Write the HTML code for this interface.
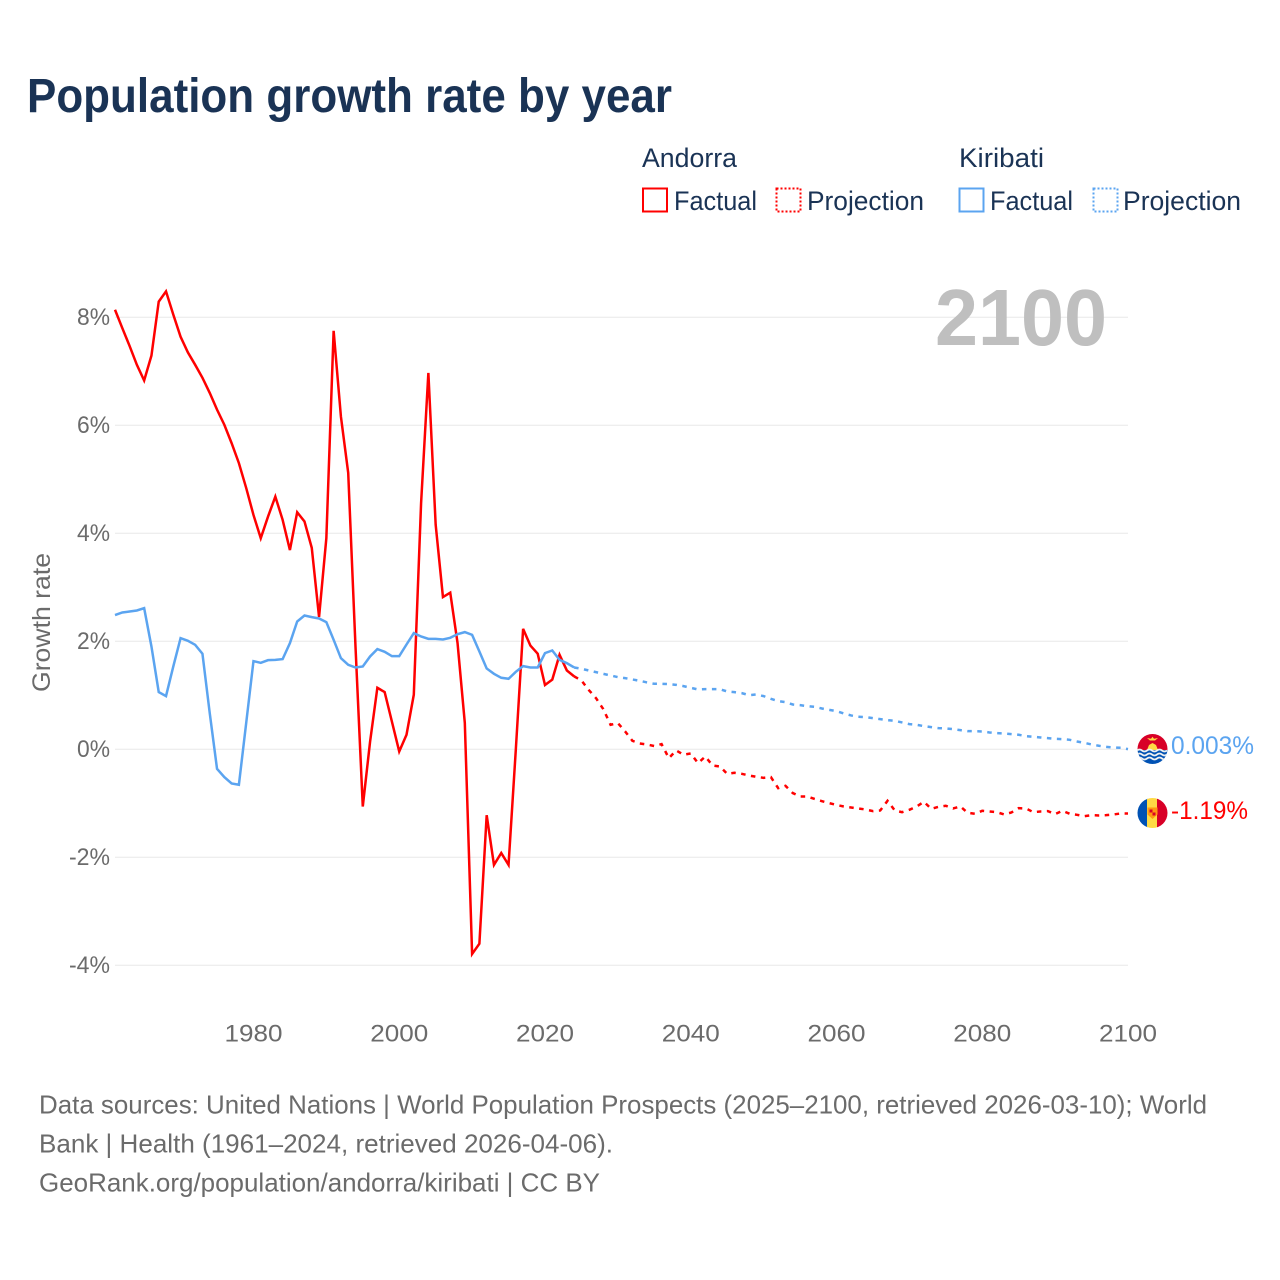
<!DOCTYPE html>
<html lang="en">
<head>
<meta charset="utf-8">
<title>Population growth rate by year</title>
<style>
html,body{margin:0;padding:0;background:#fff}
svg{display:block}
text{font-family:"Liberation Sans",sans-serif}
</style>
</head>
<body>
<svg id="chart" xmlns="http://www.w3.org/2000/svg" width="1280" height="1280" viewBox="0 0 1280 1280">
  <rect x="0" y="0" width="1280" height="1280" fill="#ffffff"/>
  <text x="27" y="112" font-size="48" font-weight="700" fill="#1a3355" textLength="645" lengthAdjust="spacingAndGlyphs">Population growth rate by year</text>

  <g font-size="27" fill="#1a3355">
    <text x="642" y="167" textLength="95" lengthAdjust="spacingAndGlyphs">Andorra</text>
    <text x="959" y="167" textLength="85" lengthAdjust="spacingAndGlyphs">Kiribati</text>
    <rect x="643" y="188.5" width="24" height="23" fill="none" stroke="#ff0000" stroke-width="2"/>
    <text x="674" y="210" textLength="83" lengthAdjust="spacingAndGlyphs">Factual</text>
    <rect x="776.5" y="188.5" width="24" height="23" fill="none" stroke="#ff0000" stroke-width="2" stroke-dasharray="2 2"/>
    <text x="807" y="210" textLength="117" lengthAdjust="spacingAndGlyphs">Projection</text>
    <rect x="959.5" y="188.5" width="24" height="23" fill="none" stroke="#5ba4f0" stroke-width="2"/>
    <text x="990" y="210" textLength="83" lengthAdjust="spacingAndGlyphs">Factual</text>
    <rect x="1093.5" y="188.5" width="24" height="23" fill="none" stroke="#5ba4f0" stroke-width="2" stroke-dasharray="2 2"/>
    <text x="1123" y="210" textLength="118" lengthAdjust="spacingAndGlyphs">Projection</text>
  </g>

  <g id="grid"></g>
  <text x="935" y="345" font-size="80" font-weight="700" fill="#bfbfbf" textLength="172" lengthAdjust="spacingAndGlyphs">2100</text>
  <g id="y-ticks"></g>
  <g id="x-ticks"></g>
  <text transform="translate(50 692) rotate(-90)" x="0" y="0" font-size="25" fill="#6b6b6b" textLength="139" lengthAdjust="spacingAndGlyphs">Growth rate</text>
  <g id="series"></g>

  <defs>
    <clipPath id="clip-kiribati"><circle cx="1152.500" cy="749" r="15"/></clipPath>
    <clipPath id="clip-andorra"><circle cx="1152.500" cy="813" r="15"/></clipPath>
  </defs>
  <g clip-path="url(#clip-kiribati)">
    <rect x="1137" y="733" width="31" height="17" fill="#d80027"/>
    <rect x="1137" y="750" width="31" height="16" fill="#0052b4"/>
    <path d="M1147 750l2-5 3.500-2 3.500 2 2 5z" fill="#ffda44"/>
    <path d="M1147 738l4 .8 1.500-2 1.500 2 4-.8-3 2.500h-5z" fill="#ffda44"/>
    <path d="M1137 750.500q2.500-2 5 0t5 0 5 0 5 0 5 0 5 0" fill="none" stroke="#f0f0f0" stroke-width="1.800"/>
    <path d="M1137 754.500q2.500-2 5 0t5 0 5 0 5 0 5 0 5 0" fill="none" stroke="#f0f0f0" stroke-width="1.800"/>
    <path d="M1137 758.500q2.500-2 5 0t5 0 5 0 5 0 5 0 5 0" fill="none" stroke="#f0f0f0" stroke-width="1.800"/>
  </g>
  <g clip-path="url(#clip-andorra)">
    <rect x="1137" y="797" width="11" height="32" fill="#0052b4"/>
    <rect x="1147" y="797" width="11" height="32" fill="#ffda44"/>
    <rect x="1157" y="797" width="11" height="32" fill="#d80027"/>
    <path d="M1147.500 807.500h10v7l-5 4.500-5-4.500z" fill="#ff9811"/>
    <rect x="1149.500" y="809.500" width="3" height="3" fill="#d80027"/>
    <rect x="1152.500" y="812.500" width="3" height="3" fill="#d80027"/>
  </g>
  <text x="1171" y="754" font-size="25" fill="#5ba4f0" textLength="83" lengthAdjust="spacingAndGlyphs">0.003%</text>
  <text x="1171" y="819" font-size="25" fill="#ff0000" textLength="77" lengthAdjust="spacingAndGlyphs">-1.19%</text>

  <g font-size="26" fill="#6b6b6b">
    <text x="39" y="1113.500" textLength="1168" lengthAdjust="spacingAndGlyphs">Data sources: United Nations | World Population Prospects (2025–2100, retrieved 2026-03-10); World</text>
    <text x="39" y="1152.500" textLength="574" lengthAdjust="spacingAndGlyphs">Bank | Health (1961–2024, retrieved 2026-04-06).</text>
    <text x="39" y="1191.500" textLength="561" lengthAdjust="spacingAndGlyphs">GeoRank.org/population/andorra/kiribati | CC BY</text>
  </g>
</svg>
<script>
const factualStartYear = 1961;
const projectionStartYear = 2024;
const yTickValues = [8, 6, 4, 2, 0, -2, -4];
const xTickValues = [1980, 2000, 2020, 2040, 2060, 2080, 2100];

const andorraFactual = [
  8.14, 7.80, 7.47, 7.12, 6.83, 7.29, 8.29, 8.48, 8.05, 7.64,
  7.35, 7.12, 6.88, 6.60, 6.29, 6.01, 5.67, 5.30, 4.84, 4.34,
  3.91, 4.31, 4.68, 4.25, 3.69, 4.39, 4.22, 3.73, 2.45, 3.91,
  7.75, 6.16, 5.12, 1.90, -1.06, 0.14, 1.14, 1.06, 0.51, -0.04,
  0.27, 1.01, 4.56, 6.97, 4.16, 2.82, 2.90, 1.97, 0.49, -3.79,
  -3.60, -1.22, -2.14, -1.92, -2.14, 0.00, 2.23, 1.92, 1.77, 1.19,
  1.29, 1.75, 1.46, 1.35
];
const andorraProjection = [
  1.35, 1.275, 1.10, 0.948, 0.744, 0.454, 0.485, 0.33, 0.157, 0.108,
  0.089, 0.06, 0.096, -0.164, -0.02, -0.10, -0.077, -0.256, -0.133, -0.30,
  -0.318, -0.454, -0.435, -0.454, -0.485, -0.51, -0.528, -0.515, -0.72, -0.676,
  -0.81, -0.873, -0.873, -0.92, -0.96, -0.997, -1.03, -1.059, -1.077, -1.096,
  -1.114, -1.145, -1.133, -0.954, -1.133, -1.164, -1.12, -1.059, -0.972, -1.102,
  -1.065, -1.046, -1.096, -1.059, -1.176, -1.194, -1.139, -1.151, -1.164, -1.207,
  -1.17, -1.09, -1.096, -1.164, -1.151, -1.145, -1.20, -1.139, -1.194, -1.213,
  -1.238, -1.219, -1.225, -1.219, -1.207, -1.188, -1.19
];
const kiribatiFactual = [
  2.485, 2.534, 2.552, 2.571, 2.614, 1.904, 1.059, 0.985, 1.534, 2.059,
  2.009, 1.935, 1.769, 0.67, -0.361, -0.515, -0.633, -0.657, 0.485, 1.633,
  1.602, 1.651, 1.657, 1.67, 1.966, 2.367, 2.478, 2.448, 2.423, 2.355,
  2.028, 1.688, 1.565, 1.515, 1.534, 1.719, 1.855, 1.806, 1.725, 1.725,
  1.941, 2.151, 2.089, 2.046, 2.046, 2.034, 2.065, 2.133, 2.17, 2.12,
  1.812, 1.497, 1.398, 1.324, 1.306, 1.435, 1.54, 1.515, 1.515, 1.781,
  1.83, 1.657, 1.596, 1.515
];
const kiribatiProjection = [
  1.515, 1.491, 1.46, 1.429, 1.398, 1.367, 1.336, 1.318, 1.293, 1.269,
  1.238, 1.213, 1.213, 1.207, 1.194, 1.17, 1.139, 1.108, 1.114, 1.114,
  1.114, 1.071, 1.059, 1.04, 1.003, 1.015, 0.985, 0.935, 0.892, 0.873,
  0.83, 0.818, 0.799, 0.787, 0.756, 0.731, 0.707, 0.664, 0.627, 0.602,
  0.596, 0.577, 0.559, 0.54, 0.528, 0.497, 0.466, 0.454, 0.429, 0.411,
  0.392, 0.386, 0.373, 0.355, 0.336, 0.336, 0.33, 0.312, 0.299, 0.293,
  0.281, 0.269, 0.244, 0.231, 0.219, 0.207, 0.194, 0.188, 0.176, 0.145,
  0.12, 0.089, 0.065, 0.046, 0.034, 0.028, 0.003
];

const SVG_NS = 'http://www.w3.org/2000/svg';
function xScale(year) { return 115 + (year - 1961) * (1128 - 115) / (2100 - 1961); }
function yScale(value) { return 749.3 - value * 54; }
function pointsFor(values, startYear) {
  return values.map(function (v, i) { return xScale(startYear + i).toFixed(2) + ',' + yScale(v).toFixed(2); }).join(' ');
}

const gridLayer = document.getElementById('grid');
const yLayer = document.getElementById('y-ticks');
const xLayer = document.getElementById('x-ticks');
const seriesLayer = document.getElementById('series');

yTickValues.forEach(function (v) {
  const line = document.createElementNS(SVG_NS, 'line');
  
  
  line.setAttribute('x1', xScale(1961));
  line.setAttribute('x2', xScale(2100));
  line.setAttribute('y1', yScale(v));
  line.setAttribute('y2', yScale(v));
  line.setAttribute('stroke', '#e8e8e8');
  line.setAttribute('stroke-width', '1');
  gridLayer.appendChild(line);

  const label = document.createElementNS(SVG_NS, 'text');
  
  
  label.setAttribute('x', v < 0 ? '69' : '77');
  label.setAttribute('y', yScale(v) + 7.5);
  label.setAttribute('font-size', '24');
  label.setAttribute('fill', '#6b6b6b');
  label.setAttribute('textLength', v < 0 ? '41' : '33');
  label.setAttribute('lengthAdjust', 'spacingAndGlyphs');
  label.textContent = v + '%';
  yLayer.appendChild(label);
});

xTickValues.forEach(function (year) {
  const label = document.createElementNS(SVG_NS, 'text');
  
  
  label.setAttribute('x', xScale(year) - 29);
  label.setAttribute('y', '1041.5');
  label.setAttribute('font-size', '24');
  label.setAttribute('fill', '#6b6b6b');
  label.setAttribute('textLength', '58');
  label.setAttribute('lengthAdjust', 'spacingAndGlyphs');
  label.textContent = String(year);
  xLayer.appendChild(label);
});

function drawLine(values, startYear, color, dashed, name) {
  const line = document.createElementNS(SVG_NS, 'polyline');
  
  
  line.setAttribute('points', pointsFor(values, startYear));
  line.setAttribute('fill', 'none');
  line.setAttribute('stroke', color);
  line.setAttribute('stroke-width', '2.5');
  line.setAttribute('stroke-linejoin', 'miter');
  if (dashed) {
    line.setAttribute('stroke-dasharray', '4.5 5.5');
  }
  seriesLayer.appendChild(line);
}

drawLine(kiribatiProjection, projectionStartYear, '#5ba4f0', true, 'kiribati-projection-line');
drawLine(andorraProjection, projectionStartYear, '#ff0000', true, 'andorra-projection-line');
drawLine(andorraFactual, factualStartYear, '#ff0000', false, 'andorra-factual-line');
drawLine(kiribatiFactual, factualStartYear, '#5ba4f0', false, 'kiribati-factual-line');
</script>
</body>
</html>
